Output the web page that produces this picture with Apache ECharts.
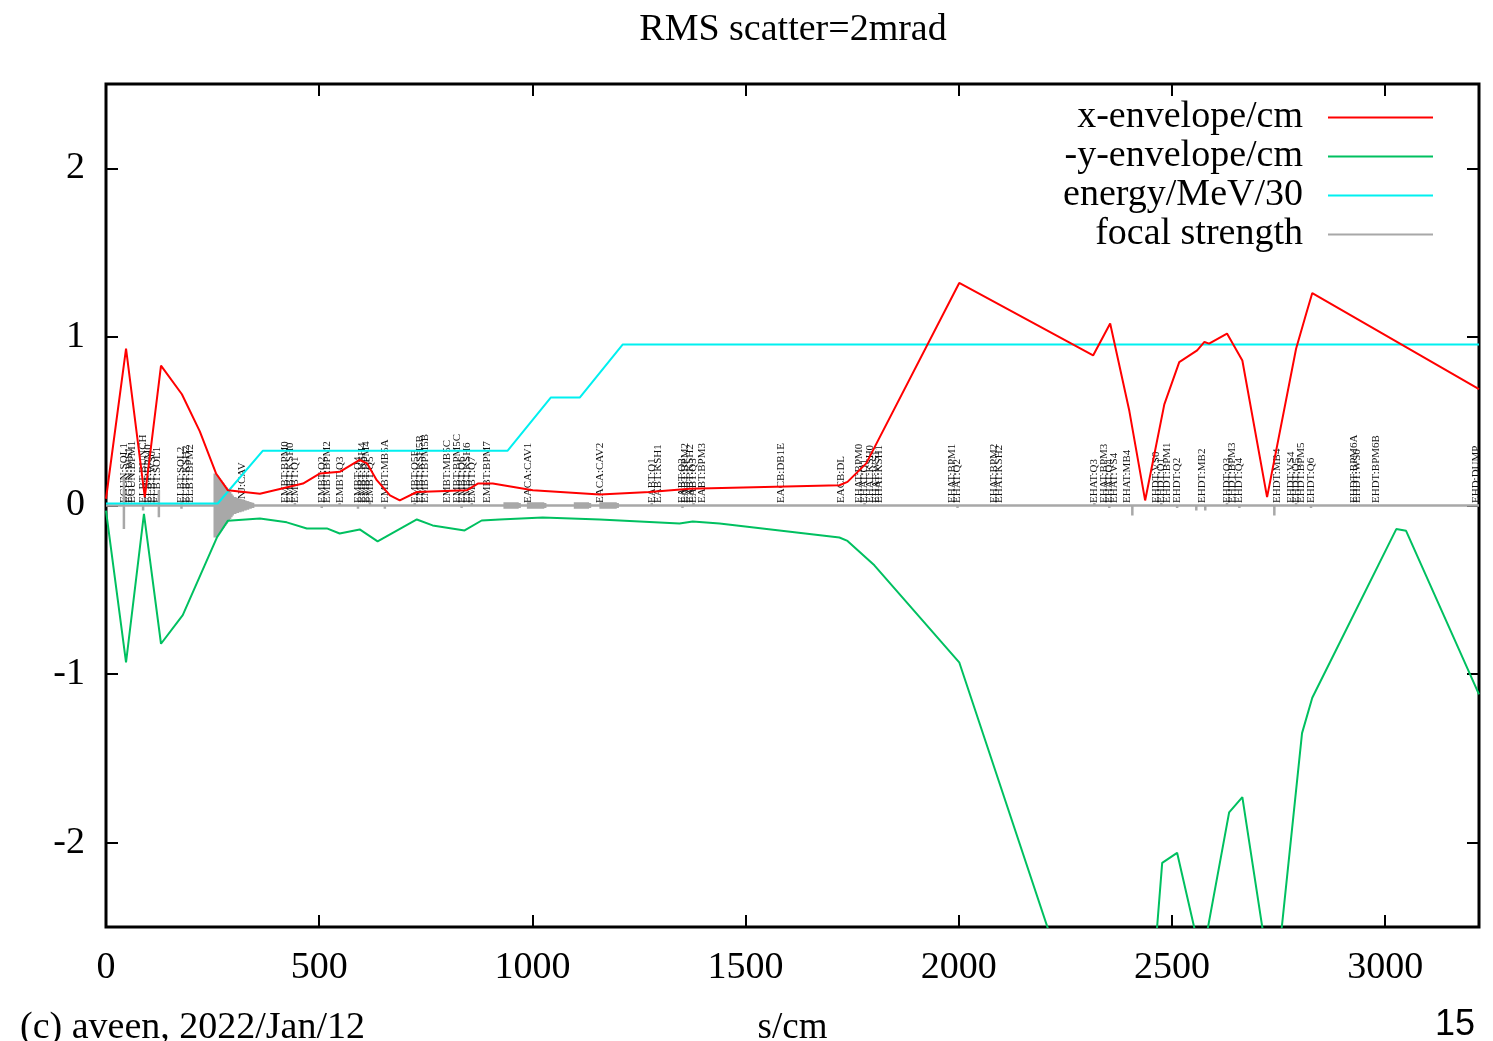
<!DOCTYPE html>
<html><head><meta charset="utf-8">
<script src="https://cdn.jsdelivr.net/npm/echarts@6/dist/echarts.min.js"></script>
<style>html,body{margin:0;padding:0;background:#fff}#c{width:1493px;height:1041px}</style>
</head><body><div id="c"></div>
<script>
// ---- x-envelope/cm ----
const xEnvS = [0,47,91,129,178,220,258,286,361,462,502,548,595,612,635,666,689,729,846,872,907,1001,1158,1275,1369,1720,1739,1783,2001,2315,2355,2400,2437,2482,2517,2559,2576,2587,2629,2665,2723,2791,2815,2829,3220];
const xEnvV = [0.04,0.93,0.05,0.83,0.66,0.44,0.19,0.09,0.07,0.13,0.19,0.20,0.27,0.25,0.15,0.06,0.03,0.08,0.09,0.13,0.13,0.09,0.065,0.08,0.10,0.12,0.14,0.25,1.32,0.89,1.08,0.56,0.03,0.60,0.85,0.92,0.97,0.96,1.02,0.86,0.05,0.93,1.14,1.26,0.69];
// ---- -y-envelope/cm ----
const yEnvS = [0,47,89,129,180,260,286,361,424,471,518,548,595,637,729,766,841,881,923,1024,1158,1345,1376,1439,1720,1739,1802,2001,2300,2440,2477,2512,2570,2634,2665,2739,2805,2829,3026,3049,3220];
const yEnvV = [-0.03,-0.93,-0.05,-0.82,-0.65,-0.19,-0.09,-0.077,-0.10,-0.136,-0.136,-0.166,-0.142,-0.213,-0.083,-0.118,-0.148,-0.089,-0.083,-0.071,-0.083,-0.107,-0.095,-0.107,-0.19,-0.21,-0.355,-0.93,-3.2,-3.3,-2.12,-2.06,-2.7,-1.82,-1.73,-2.95,-1.35,-1.14,-0.14,-0.15,-1.12];
// ---- energy/MeV/30 ----
const enS = [0,262,368,942,1043,1111,1212,3220];
const enV = [0.012,0.012,0.325,0.325,0.64,0.64,0.955,0.955];
// ---- focal strength: impulse position, upper and lower extent ----
const fsS = [42,87,124,177,
  255,258,261,264,267,270,273,276,279,282,285,288,291,294,297,300,303,306,309,312,315,318,321,324,327,330,333,336,339,342,345,348,352,356,360,
  443,506,548,591,619,654,724,834,858,
  935,940,945,950,955,960,965,970,975,990,995,1000,1005,1010,1015,1020,1025,1030,1035,1040,
  1100,1105,1110,1115,1120,1125,1130,1135,1140,1160,1165,1170,1175,1180,1185,1190,1195,1200,1205,1210,
  1280,1352,1378,1779,1997,2318,2353,2407,2475,2512,2557,2578,2629,2658,2740,2791,2826];
const fsUp = [0.17,0,0.09,0.02,
  0.19,0.19,0.18,0.17,0.16,0.15,0.14,0.13,0.12,0.11,0.10,0.09,0.08,0.07,0.06,0.05,0.05,0.045,0.045,0.04,0.04,0.035,0.035,0.03,0.03,0.025,0.025,0.02,0.02,0.015,0.015,0.01,0.01,0.008,0.005,
  0.015,0,0.015,0,0.02,0,0.015,0,0.015,
  0.02,0.02,0.02,0.02,0.02,0.02,0.02,0.015,0.01,0.02,0.02,0.02,0.02,0.02,0.02,0.02,0.02,0.015,0.01,0.008,
  0.02,0.02,0.02,0.02,0.02,0.02,0.02,0.015,0.01,0.02,0.02,0.02,0.02,0.02,0.02,0.02,0.02,0.015,0.01,0.008,
  0.015,0,0.015,0.015,0,0.015,0,0,0.015,0,0,0,0.015,0,0,0.015,0];
const fsDn = [-0.14,-0.03,-0.07,-0.02,
  -0.19,-0.19,-0.18,-0.17,-0.16,-0.15,-0.14,-0.13,-0.12,-0.11,-0.10,-0.09,-0.08,-0.07,-0.06,-0.05,-0.05,-0.045,-0.045,-0.04,-0.04,-0.035,-0.035,-0.03,-0.03,-0.025,-0.025,-0.02,-0.02,-0.015,-0.015,-0.01,-0.01,-0.008,-0.005,
  0,-0.015,0,-0.02,0,-0.02,0,-0.015,0,
  -0.02,-0.02,-0.02,-0.02,-0.02,-0.02,-0.02,-0.015,-0.01,-0.02,-0.02,-0.02,-0.02,-0.02,-0.02,-0.02,-0.02,-0.015,-0.01,-0.008,
  -0.02,-0.02,-0.02,-0.02,-0.02,-0.02,-0.02,-0.015,-0.01,-0.02,-0.02,-0.02,-0.02,-0.02,-0.02,-0.02,-0.02,-0.015,-0.01,-0.008,
  0,-0.015,0,0,-0.015,0,-0.015,-0.06,0,-0.015,-0.03,-0.03,0,-0.015,-0.06,0,-0.015];
// ---- element labels ----
const elemNames = ["EGUN:SOL1","EGUN:WS1","EGUN:BPM1","ELBT:BUNCH","ELBT:BPM0","ELBT:WS0","ELBT:SOL1","ELBT:SOL2","ELBT:KSH2","ELBT:BPM2","INJ:CAV",
  "EMBT:BPM0","EMBT:KSH0","EMBT:Q1","EMBT:Q2","EMBT:BPM2","EMBT:Q3","EMBT:Q4","EMBT:KSH4","EMBT:BPM4","EMBT:Q5","EMBT:MB5A","EMBT:Q5B","EMBT:KSH5B","EMBT:BPM5B",
  "EMBT:MB5C","EMBT:BPM5C","EMBT:Q6","EMBT:KSH6","EMBT:Q7","EMBT:BPM7","EACA:CAV1","EACA:CAV2","EABT:Q1","EABT:KSH1","EABT:Q2","EABT:BPM2","EABT:KSH2","EABT:Q3","EABT:BPM3",
  "EACB:DB1E","EACB:DL","EHAT:BPM0","EHAT:Q1","EHAT:KSH0","EHAT:WS1","EHAT:KSH1","EHAT:BPM1","EHAT:Q2","EHAT:BPM2","EHAT:KSH2",
  "EHAT:Q3","EHAT:BPM3","EHAT:Q4","EHAT:VS4","EHAT:MB4","EHDT:VS0","EHDT:Q1","EHDT:BPM1","EHDT:Q2","EHDT:MB2","EHDT:Q3","EHDT:BPM3","EHDT:Q4",
  "EHDT:MB4","EHDT:VS4","EHDT:Q5","EHDT:BPM5","EHDT:Q6","EHDT:BPM6A","EHDT:WS6","EHDT:BPM6B","EHD:DUMP"];
const elemS = [42,54,61,87,98,108,120,176,187,197,319,
  420,431,443,506,518,548,591,600,609,619,654,724,736,748,
  799,823,834,846,858,893,989,1158,1280,1294,1352,1359,1369,1378,1399,
  1584,1725,1767,1779,1791,1805,1814,1985,1997,2083,2095,
  2318,2341,2353,2365,2395,2463,2475,2489,2512,2571,2629,2641,2658,
  2747,2779,2791,2803,2826,2927,2934,2979,3213];
const xTicks = [0,500,1000,1500,2000,2500,3000];
const yTicks = [-2,-1,0,1,2];

const pairs = (s, v) => s.map((x, i) => [x, v[i]]);
const fsData = [[0, 0]];
fsS.forEach((x, i) => { fsData.push([x, 0], [x, fsUp[i]], [x, fsDn[i]], [x, 0]); });
fsData.push([3220, 0]);

const SERIF = '"Liberation Serif","DejaVu Serif",serif';
const chart = echarts.init(document.getElementById('c'), null, {renderer: 'canvas'});
const tickStyle = {show: true, inside: true, length: 12, lineStyle: {color: '#000', width: 2}};
const axisCommon = {
  type: 'value', min: 0, max: 3220,
  axisLine: {show: false, onZero: false}, splitLine: {show: false},
  axisTick: Object.assign({customValues: xTicks}, tickStyle)
};
const yCommon = {
  type: 'value', min: -2.5, max: 2.5,
  axisLine: {show: false, onZero: false}, splitLine: {show: false},
  axisTick: Object.assign({customValues: yTicks}, tickStyle)
};
chart.setOption({
  animation: false,
  backgroundColor: '#fff',
  title: {text: 'RMS scatter=2mrad', left: 788, top: 6, textAlign: 'center',
    textStyle: {fontFamily: SERIF, fontSize: 38, fontWeight: 'normal', color: '#000'}},
  grid: {left: 106, right: 14, top: 84, bottom: 114, show: true, borderColor: '#000', borderWidth: 3,
    backgroundColor: 'transparent', containLabel: false, outerBoundsMode: 'none'},
  legend: {
    data: ['x-envelope/cm', '-y-envelope/cm', 'energy/MeV/30', 'focal strength'],
    orient: 'vertical', align: 'right', right: 55, top: 93,
    itemWidth: 105, itemHeight: 2, itemGap: 0, icon: 'rect',
    textStyle: {fontFamily: SERIF, fontSize: 38, color: '#000', lineHeight: 39, padding: [0, 20, 0, 0]}
  },
  xAxis: [
    Object.assign({}, axisCommon, {position: 'bottom',
      axisLabel: {customValues: xTicks, formatter: (v) => String(v), fontFamily: SERIF, fontSize: 38, color: '#000', margin: 22},
      name: 's/cm', nameLocation: 'middle', nameGap: 83,
      nameTextStyle: {fontFamily: SERIF, fontSize: 37, color: '#000'}}),
    Object.assign({}, axisCommon, {position: 'top', axisLabel: {show: false}})
  ],
  yAxis: [
    Object.assign({}, yCommon, {position: 'left',
      axisLabel: {customValues: yTicks, formatter: (v) => String(v), fontFamily: SERIF, fontSize: 38, color: '#000', margin: 21}}),
    Object.assign({}, yCommon, {position: 'right', axisLabel: {show: false}})
  ],
  graphic: [
    {type: 'text', left: 20, top: 1009, style: {text: '(c) aveen, 2022/Jan/12', font: '38px ' + SERIF, fill: '#000'}},
    {type: 'text', left: 1435, top: 1007, style: {text: '15', font: '36px "Liberation Sans", Arial, sans-serif', fill: '#000'}}
  ],
  series: [
    {
      name: 'labels', type: 'custom', silent: true, clip: false, z: 1,
      data: elemS.map((s) => [s, 0]),
      encode: {x: 0, y: 1},
      renderItem: function (params, api) {
        const p = api.coord([api.value(0), 0]);
        return {type: 'text', x: p[0], y: p[1] - 2.5, rotation: Math.PI / 2,
          style: {text: elemNames[params.dataIndex], x: 0, y: 0, align: 'left', verticalAlign: 'middle',
            font: '11px ' + SERIF, fill: '#111'}};
      }
    },
    {name: 'focal strength', type: 'line', data: fsData, showSymbol: false, symbol: 'none', z: 2,
      lineStyle: {color: '#a8a8a8', width: 2.5}, itemStyle: {color: '#a8a8a8'}},
    {name: 'energy/MeV/30', type: 'line', data: pairs(enS, enV), showSymbol: false, symbol: 'none', z: 3,
      lineStyle: {color: '#00f0f0', width: 2}, itemStyle: {color: '#00f0f0'}},
    {name: 'x-envelope/cm', type: 'line', data: pairs(xEnvS, xEnvV), showSymbol: false, symbol: 'none', z: 4,
      lineStyle: {color: '#ff0000', width: 2}, itemStyle: {color: '#ff0000'}},
    {name: '-y-envelope/cm', type: 'line', data: pairs(yEnvS, yEnvV), showSymbol: false, symbol: 'none', z: 4,
      lineStyle: {color: '#00c060', width: 2}, itemStyle: {color: '#00c060'}}
  ]
});
</script></body></html>
